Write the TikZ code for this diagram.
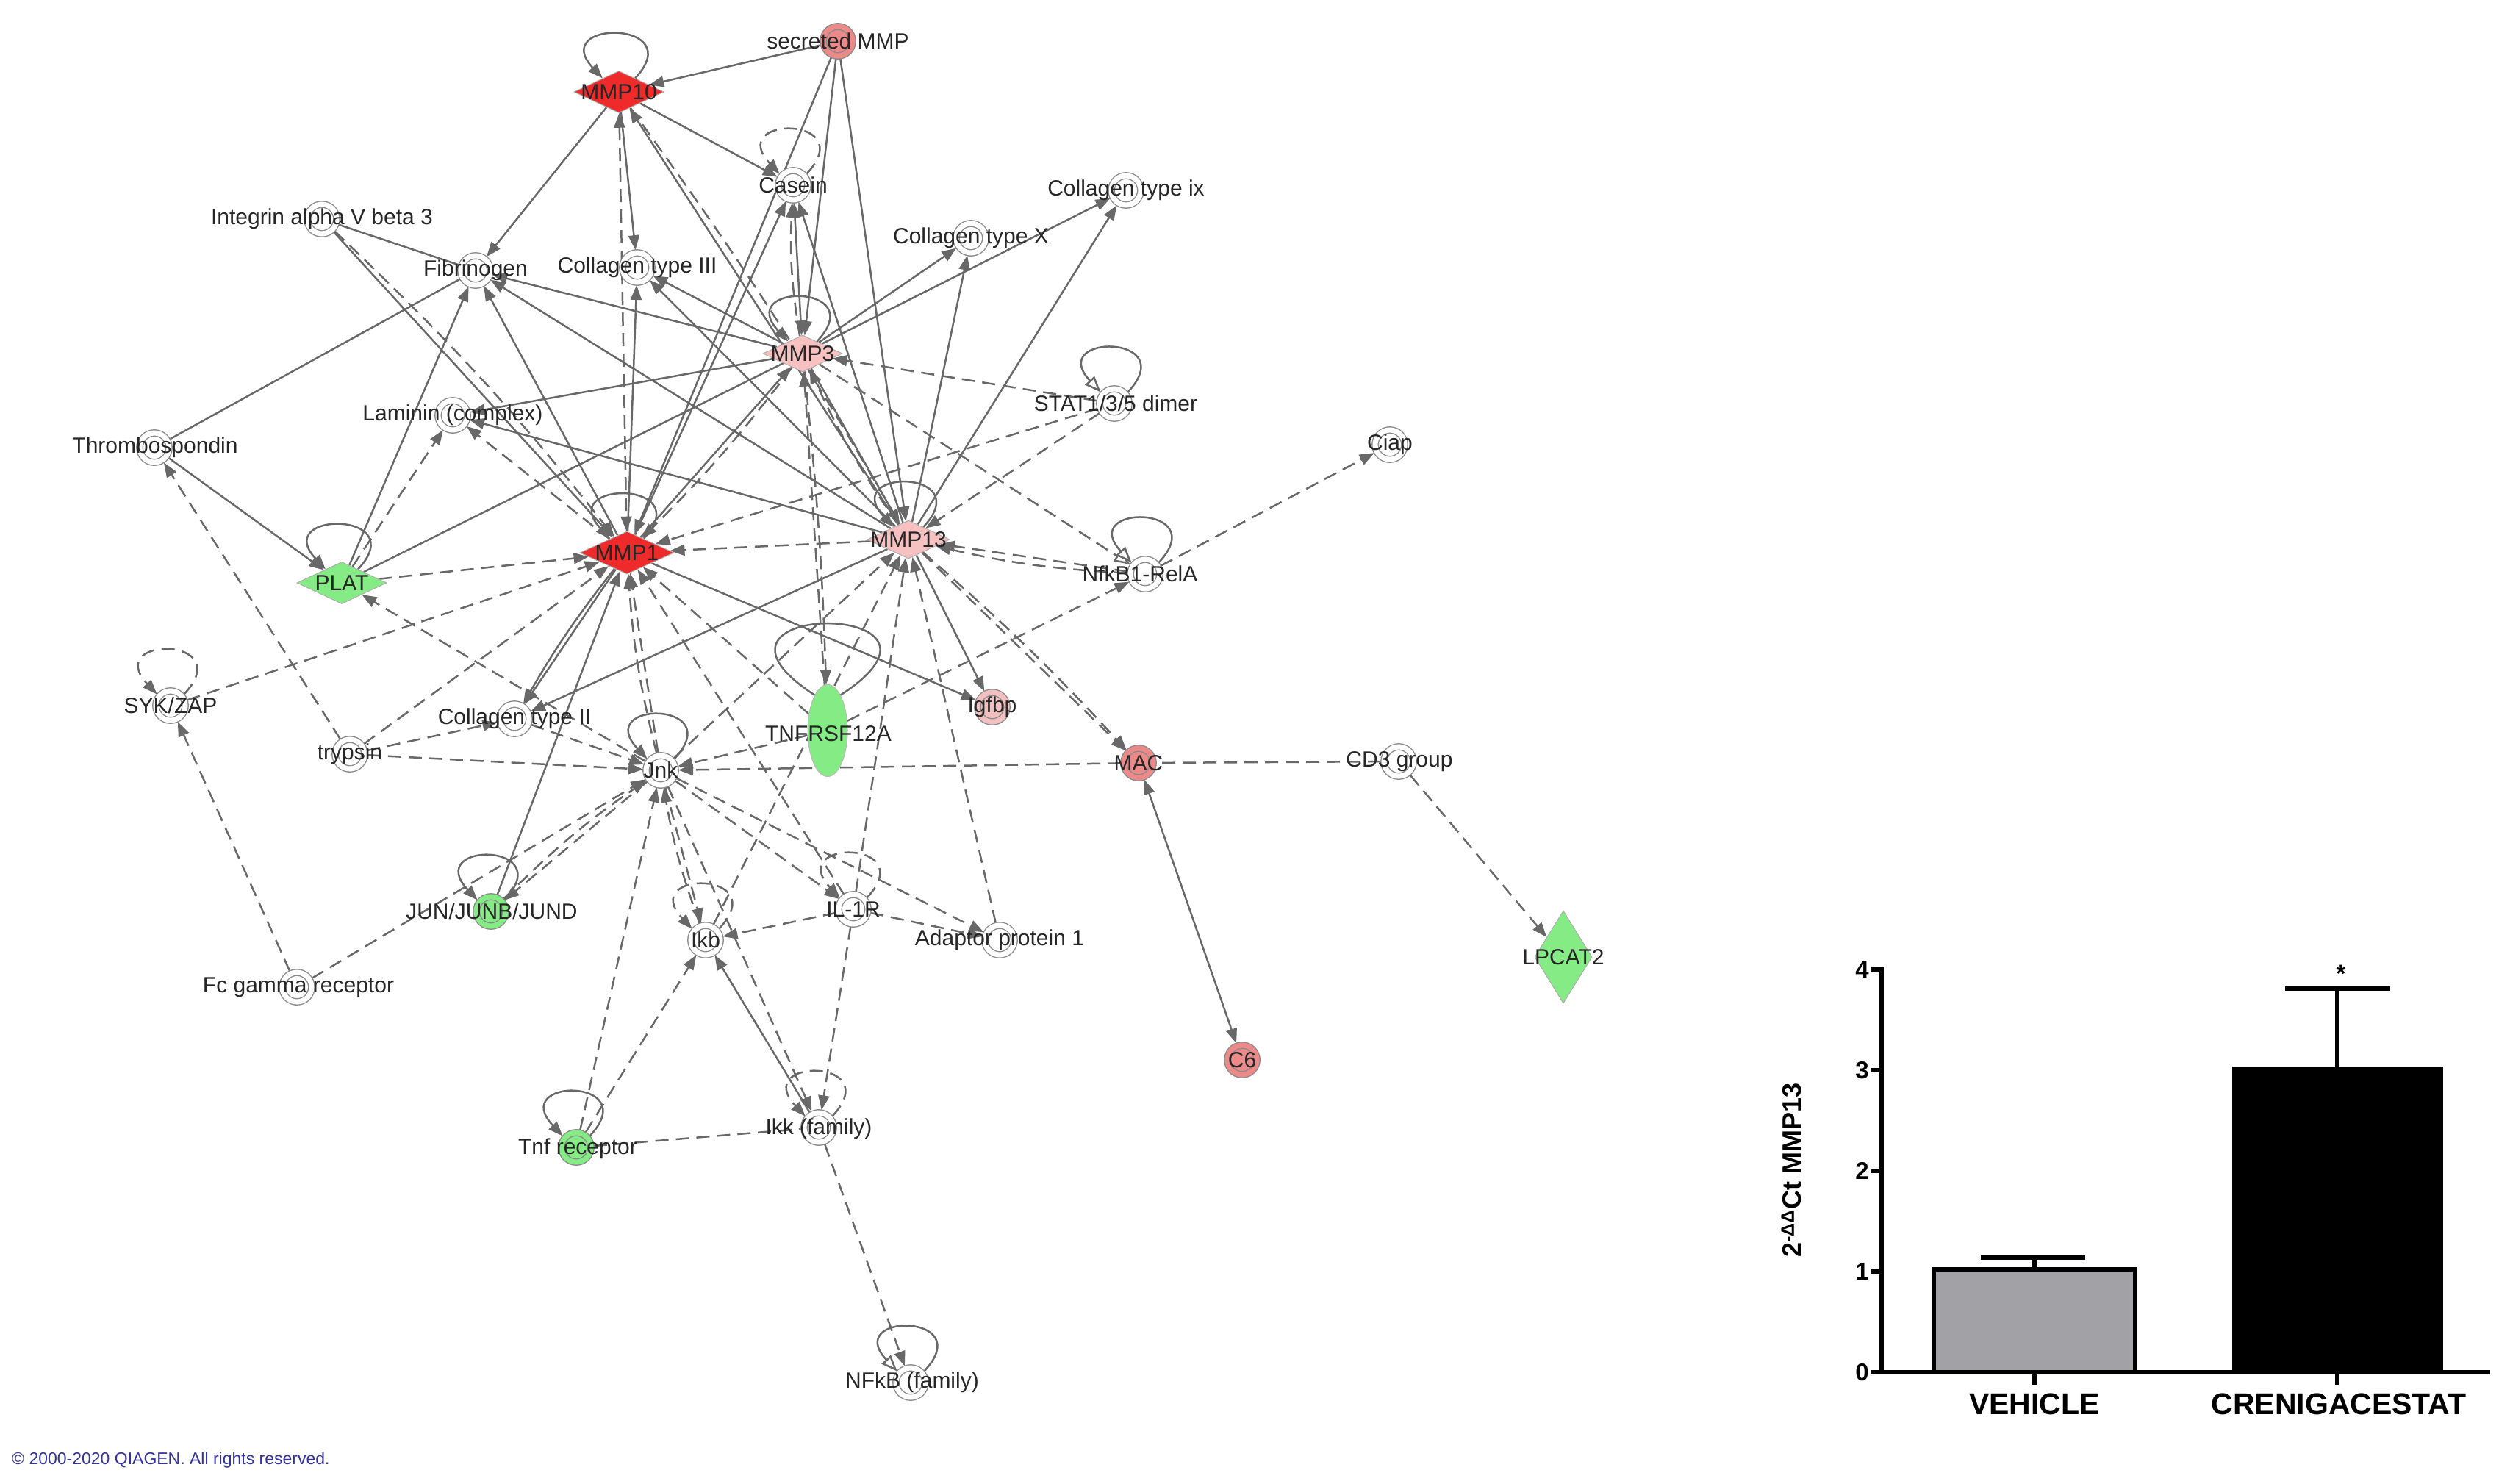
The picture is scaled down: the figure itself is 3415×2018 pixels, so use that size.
\documentclass[tikz,border=0pt]{standalone}
\usepackage{fontspec}
\setmainfont{Liberation Sans}
\usetikzlibrary{arrows.meta,shapes.geometric,calc}
\pgfdeclarelayer{bg}
\pgfdeclarelayer{edges}
\pgfsetlayers{bg,edges,main}
\definecolor{edgec}{HTML}{686868}
\definecolor{ringc}{HTML}{8A8A8A}
\definecolor{redn}{HTML}{EE2A2A}
\definecolor{pinkn}{HTML}{F8C1C1}
\definecolor{medred}{HTML}{EC8A8A}
\definecolor{lpink}{HTML}{F2C0C0}
\definecolor{greenn}{HTML}{85EC85}
\definecolor{copyc}{HTML}{33339A}
\definecolor{barg}{HTML}{A2A2A6}
\newcommand\toploop[2]{\draw[#1] (#2.40) .. controls +(75,-80) and +(-75,-80) .. (#2.140);}
\newcommand\mylab[3]{\node[lb] (#1l) at (#2) {#3};}
\begin{document}
\begin{tikzpicture}[x=1pt,y=-1pt,
  >={Triangle[length=20pt,width=15pt]},
  E/.style={draw=edgec, line width=2.5pt},
  S/.style={E,->},
  SN/.style={E},
  SB/.style={E,<->},
  D/.style={E,->,dash pattern=on 18pt off 10pt},
  DN/.style={E,dash pattern=on 18pt off 10pt},
  DB/.style={E,<->,dash pattern=on 18pt off 10pt},
  SO/.style={E,-{Triangle[open,length=22pt,width=17pt,fill=white]}},
  DO/.style={E,-{Triangle[open,length=22pt,width=17pt,fill=white]},dash pattern=on 18pt off 10pt},
  cn/.style={circle, minimum size=40pt, inner sep=0pt, outer sep=4pt, draw=ringc, line width=1.4pt, double=white, double distance=7pt, fill=white},
  ccol/.style={cn, fill=#1, double=#1},
  dm/.style={diamond, inner sep=0pt, draw=ringc!70, line width=1pt, fill=#1},
  lb/.style={font=\fontsize{30}{32}\selectfont, text=black!85, inner sep=0pt},
  bl/.style={draw=black, line width=5.5pt},
  tk/.style={font=\bfseries\fontsize{33}{36}\selectfont, inner sep=0pt, anchor=east}
]
\useasboundingbox (0,0) rectangle (3415,2018);
\begin{pgfonlayer}{bg}
\fill[white] (0,0) rectangle (3415,2018);
\end{pgfonlayer}

% ---------------- nodes ----------------
\node[ccol=medred] (smmp) at (1140,56) {};
\node[dm=redn, minimum width=122pt, minimum height=57pt] (mmp10) at (842,125) {};
\node[cn] (casein) at (1079,252) {};
\node[cn] (integrin) at (438,298) {};
\node[cn] (fib) at (647,368) {};
\node[cn] (col3) at (867,364) {};
\node[cn] (colix) at (1532,259) {};
\node[cn] (colx) at (1321,324) {};
\node[dm=pinkn, minimum width=108pt, minimum height=50pt] (mmp3) at (1092,481) {};
\node[cn] (stat) at (1516,549) {};
\node[cn] (laminin) at (616,565) {};
\node[cn] (thromb) at (210,609) {};
\node[cn] (ciap) at (1891,605) {};
\node[dm=greenn, minimum width=122pt, minimum height=57pt] (plat) at (465,793) {};
\node[dm=redn, minimum width=128pt, minimum height=58pt] (mmp1) at (853,752) {};
\node[dm=pinkn, minimum width=112pt, minimum height=52pt] (mmp13) at (1236,734) {};
\node[cn] (nfkb1) at (1558,781) {};
\node[cn] (syk) at (232,960) {};
\node[cn] (col2) at (700,978) {};
\node[cn] (trypsin) at (476,1026) {};
\node[cn] (jnk) at (899,1048) {};
\node[ellipse, minimum width=54pt, minimum height=125pt, inner sep=0pt, fill=greenn, draw=ringc!60, line width=1pt] (tnfr12) at (1126,994) {};
\node[ccol=lpink] (igfbp) at (1350,962) {};
\node[ccol=medred] (mac) at (1549,1038) {};
\node[cn] (cd3) at (1903,1036) {};
\node[ccol=greenn] (jun) at (668,1240) {};
\node[cn] (il1r) at (1161,1237) {};
\node[cn] (ikb) at (960,1279) {};
\node[cn] (ap1) at (1360,1279) {};
\node[dm=greenn, minimum width=78pt, minimum height=126pt] (lpcat2) at (2127,1302) {};
\node[cn] (fcg) at (404,1343) {};
\node[ccol=medred] (c6) at (1690,1442) {};
\node[ccol=greenn] (tnfr) at (784,1561) {};
\node[cn] (ikk) at (1114,1534) {};
\node[cn] (nfkb) at (1239,1881) {};

% ---------------- edges ----------------
\begin{pgfonlayer}{edges}
\draw[S] (smmp) -- (mmp10);
\draw[S] (smmp) -- (mmp3);
\draw[S] (smmp) -- (mmp1);
\draw[S] (smmp) -- (mmp13);
\draw[S] (mmp10) -- (fib);
\draw[S] (mmp10) -- (casein);
\draw[S] (mmp10) -- (col3);
\draw[DB] (mmp10) -- (mmp1);
\draw[S] (mmp13) -- (mmp10);
\draw[D] (mmp10) to[bend left=3] (mmp13);
\draw[SB] (mmp3) -- (casein);
\draw[D] (mmp3) to[bend left=6] (casein);
\draw[S] (mmp1) -- (casein);
\draw[S] (mmp13) -- (casein);
\draw[SN] (integrin) -- (fib);
\draw[S] (integrin) -- (mmp1);
\draw[D] (integrin) to[bend left=4] (mmp1);
\draw[SN] (thromb) -- (fib);
\draw[S] (thromb) -- (plat);
\draw[S] (mmp3) -- (fib);
\draw[S] (mmp1) -- (fib);
\draw[S] (plat) -- (fib);
\draw[S] (mmp13) -- (fib);
\draw[S] (mmp3) -- (col3);
\draw[S] (mmp1) -- (col3);
\draw[S] (mmp13) -- (col3);
\draw[S] (mmp3) -- (laminin);
\draw[D] (plat) -- (laminin);
\draw[D] (mmp1) -- (laminin);
\draw[S] (mmp13) -- (laminin);
\draw[S] (mmp3) -- (colx);
\draw[S] (mmp13) -- (colx);
\draw[S] (mmp3) -- (colix);
\draw[S] (mmp13) -- (colix);
\draw[D] (stat) -- (mmp3);
\draw[D] (stat) -- (mmp1);
\draw[D] (stat) -- (mmp13);
\draw[D] (plat) -- (mmp1);
\draw[SN] (plat) -- (mmp3);
\draw[D] (mmp13) -- (mmp1);
\draw[S] (mmp1) -- (mmp3);
\draw[D] (mmp3) to[bend left=4] (mmp1);
\draw[S] (mmp3) -- (mmp13);
\draw[D] (mmp13) to[bend left=5] (mmp3);
\draw[S] (mmp1) -- (igfbp);
\draw[S] (mmp13) -- (igfbp);
\draw[D] (nfkb1) -- (mmp13);
\draw[D] (nfkb1) to[bend left=5] (mmp13);
\draw[DO] (mmp3) -- (nfkb1);
\draw[D] (tnfr12) -- (nfkb1);
\draw[D] (nfkb1) -- (ciap);
\draw[D] (syk) -- (mmp1);
\draw[D] (fcg) -- (syk);
\draw[D] (fcg) -- (jnk);
\draw[D] (trypsin) -- (thromb);
\draw[D] (jnk) -- (plat);
\draw[D] (trypsin) -- (mmp1);
\draw[D] (trypsin) -- (col2);
\draw[D] (trypsin) -- (jnk);
\draw[S] (mmp1) -- (col2);
\draw[S] (mmp1) to[bend right=4] (col2);
\draw[S] (mmp13) -- (col2);
\draw[D] (col2) -- (jnk);
\draw[S] (jun) -- (mmp1);
\draw[D] (jnk) -- (jun);
\draw[D] (jun) to[bend left=5] (jnk);
\draw[D] (jnk) -- (mmp1);
\draw[D] (jnk) to[bend left=5] (mmp1);
\draw[D] (tnfr12) -- (jnk);
\draw[D] (mac) -- (jnk);
\draw[DN] (cd3) -- (mac);
\draw[D] (cd3) -- (lpcat2);
\draw[SB] (mac) -- (c6);
\draw[D] (mmp13) -- (mac);
\draw[D] (mmp13) to[bend left=3] (mac);
\draw[D] (tnfr12) -- (mmp3);
\draw[D] (mmp3) to[bend left=2] (tnfr12);
\draw[D] (tnfr12) -- (mmp1);
\draw[D] (il1r) -- (mmp13);
\draw[D] (il1r) -- (mmp1);
\draw[D] (il1r) -- (ikb);
\draw[D] (il1r) -- (ap1);
\draw[D] (jnk) -- (ap1);
\draw[D] (jnk) -- (il1r);
\draw[D] (jnk) -- (ikb);
\draw[D] (ikb) to[bend left=5] (jnk);
\draw[D] (tnfr) -- (jnk);
\draw[D] (tnfr) -- (ikb);
\draw[DN] (tnfr) -- (ikk);
\draw[S] (ikk) -- (ikb);
\draw[D] (jnk) -- (ikk);
\draw[D] (il1r) -- (ikk);
\draw[D] (ikk) -- (nfkb);
\draw[D] (ap1) -- (mmp13);
\draw[D] (jnk) -- (mmp13);
\draw[D] (ikb) -- (mmp13);
% self loops
\toploop{S}{mmp10}
\toploop{S}{mmp3}
\toploop{S}{mmp1}
\toploop{S}{mmp13}
\toploop{S}{plat}
\toploop{S}{jnk}
\toploop{S}{jun}
\toploop{SO}{stat}
\toploop{SO}{nfkb1}
\toploop{SO}{nfkb}
\toploop{S}{tnfr}
\toploop{D}{casein}
\toploop{D}{syk}
\toploop{D}{ikb}
\toploop{D}{ikk}
\toploop{D}{il1r}
\draw[E] (tnfr12.70) .. controls +(200,-130) and +(-200,-130) .. (tnfr12.110);
\end{pgfonlayer}

% ---------------- labels ----------------
\mylab{smmp}{1140,56}{secreted MMP}
\mylab{mmp10}{842,125}{MMP10}
\mylab{casein}{1079,252}{Casein}
\mylab{integrin}{438,298}{Integrin alpha V beta 3}
\mylab{fib}{647,368}{Fibrinogen}
\mylab{col3}{867,364}{Collagen type III}
\mylab{colix}{1532,259}{Collagen type ix}
\mylab{colx}{1321,324}{Collagen type X}
\mylab{mmp3}{1092,481}{MMP3}
\mylab{stat}{1518,549}{STAT1/3/5 dimer}
\mylab{laminin}{616,565}{Laminin (complex)}
\mylab{thromb}{211,609}{Thrombospondin}
\mylab{ciap}{1891,605}{Ciap}
\mylab{plat}{465,793}{PLAT}
\mylab{mmp1}{853,752}{MMP1}
\mylab{mmp13}{1236,734}{MMP13}
\mylab{nfkb1}{1551,781}{NfkB1-RelA}
\mylab{syk}{232,960}{SYK/ZAP}
\mylab{col2}{700,978}{Collagen type II}
\mylab{trypsin}{476,1026}{trypsin}
\mylab{jnk}{899,1048}{Jnk}
\mylab{tnfr12}{1127,998}{TNFRSF12A}
\mylab{igfbp}{1350,962}{Igfbp}
\mylab{mac}{1549,1038}{MAC}
\mylab{cd3}{1904,1036}{CD3 group}
\mylab{jun}{669,1240}{JUN/JUNB/JUND}
\mylab{il1r}{1161,1237}{IL-1R}
\mylab{ikb}{960,1279}{Ikb}
\mylab{ap1}{1360,1279}{Adaptor protein 1}
\mylab{lpcat2}{2127,1302}{LPCAT2}
\mylab{fcg}{406,1343}{Fc gamma receptor}
\mylab{c6}{1690,1442}{C6}
\mylab{tnfr}{786,1563}{Tnf receptor}
\mylab{ikk}{1114,1536}{Ikk (family)}
\mylab{nfkb}{1241,1881}{NFkB (family)}

\node[anchor=west, font=\fontsize{23}{24}\selectfont, text=copyc, inner sep=0pt] (copy) at (16,1987) {© 2000-2020 QIAGEN. All rights reserved.};

% ---------------- bar chart ----------------
\fill[barg] (2631,1867) rectangle (2905,1727);
\draw[bl] (2631,1867) rectangle (2905,1727);
\fill[black] (3040,1867) rectangle (3321,1454);
\draw[bl] (3040,1867) rectangle (3321,1454);
\draw[bl] (2768,1727) -- (2768,1711);
\draw[bl] (2695,1711) -- (2837,1711);
\draw[bl] (3180,1454) -- (3180,1345);
\draw[bl] (3109,1345) -- (3252,1345);
\draw[bl] (2560,1316) -- (2560,1867) -- (3388,1867);
\foreach \v/\yy in {0/1867,1/1730,2/1593,3/1456,4/1319}{
  \draw[bl] (2545,\yy) -- (2560,\yy);
  \node[tk] (t\v) at (2543,\yy) {\v};
}
\draw[bl] (2768,1867) -- (2768,1884);
\draw[bl] (3180,1867) -- (3180,1884);
\node[font=\bfseries\fontsize{41}{44}\selectfont, inner sep=0pt] (veh) at (2768,1910) {VEHICLE};
\node[font=\bfseries\fontsize{41}{44}\selectfont, inner sep=0pt] (cren) at (3182,1910) {CRENIGACESTAT};
\node[font=\bfseries\fontsize{34}{36}\selectfont, inner sep=0pt] (star) at (3185,1325) {*};
\node[rotate=90, font=\bfseries\fontsize{36}{38}\selectfont, inner sep=0pt] (ylab) at (2437,1592) {2\textsuperscript{-ΔΔ}Ct MMP13};
\end{tikzpicture}
\end{document}
